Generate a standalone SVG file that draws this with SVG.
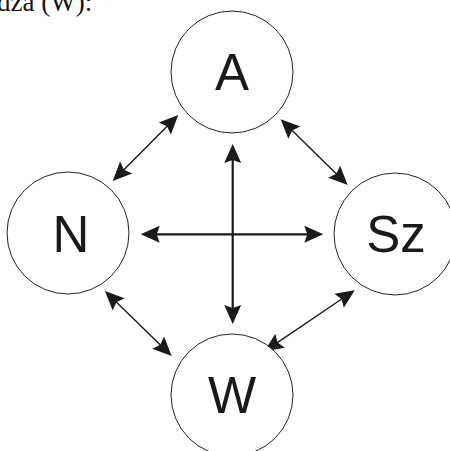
<svg xmlns="http://www.w3.org/2000/svg" width="450" height="451" viewBox="0 0 450 451">
  <style>
    .node circle { fill: #ffffff; stroke: #222222; stroke-width: 1; }
    .node text { font-family: "Liberation Sans", Arial, sans-serif; font-size: 51px; fill: #1a1a1a; text-anchor: middle; }
    .thick { stroke: #1a1a1a; stroke-width: 2.2; fill: none; marker-start: url(#head); marker-end: url(#head); }
    .thin { stroke: #1a1a1a; stroke-width: 1.4; fill: none; marker-start: url(#head); marker-end: url(#head); }
    .caption { font-family: "Liberation Serif", "Times New Roman", serif; font-size: 27px; fill: #111111; }
  </style>
  <defs>
    <marker id="head" markerUnits="userSpaceOnUse" viewBox="0 -10 20 20" refX="5" refY="0" markerWidth="20" markerHeight="20" orient="auto-start-reverse" overflow="visible">
      <path d="M19,0 L0,-8.5 L3,0 L0,8.5 Z" fill="#1a1a1a"/>
    </marker>
  </defs>

  <rect width="450" height="451" fill="#ffffff"/>

  <text class="caption" x="-3" y="11">dza (W):</text>

  <g id="connectors">
    <line class="thick" x1="232.7" y1="158" x2="232.7" y2="310"/>
    <line class="thick" x1="154.7" y1="234.3" x2="309.3" y2="234.3"/>
    <line class="thin" x1="168.4" y1="124.9" x2="122.6" y2="171.1"/>
    <line class="thin" x1="290.7" y1="129.1" x2="337.7" y2="175.2"/>
    <line class="thin" x1="115" y1="300.8" x2="161.7" y2="346.2"/>
    <line class="thin" x1="343.2" y1="298.0" x2="275.9" y2="343.6"/>
  </g>

  <g id="node-A" class="node">
    <circle cx="232" cy="72" r="61"/>
    <text x="232" y="90">A</text>
  </g>
  <g id="node-N" class="node">
    <circle cx="68" cy="233" r="61"/>
    <text x="71" y="252">N</text>
  </g>
  <g id="node-Sz" class="node">
    <circle cx="395" cy="234" r="61"/>
    <text x="396" y="252">Sz</text>
  </g>
  <g id="node-W" class="node">
    <circle cx="232" cy="395" r="61"/>
    <text x="232" y="413">W</text>
  </g>
</svg>
